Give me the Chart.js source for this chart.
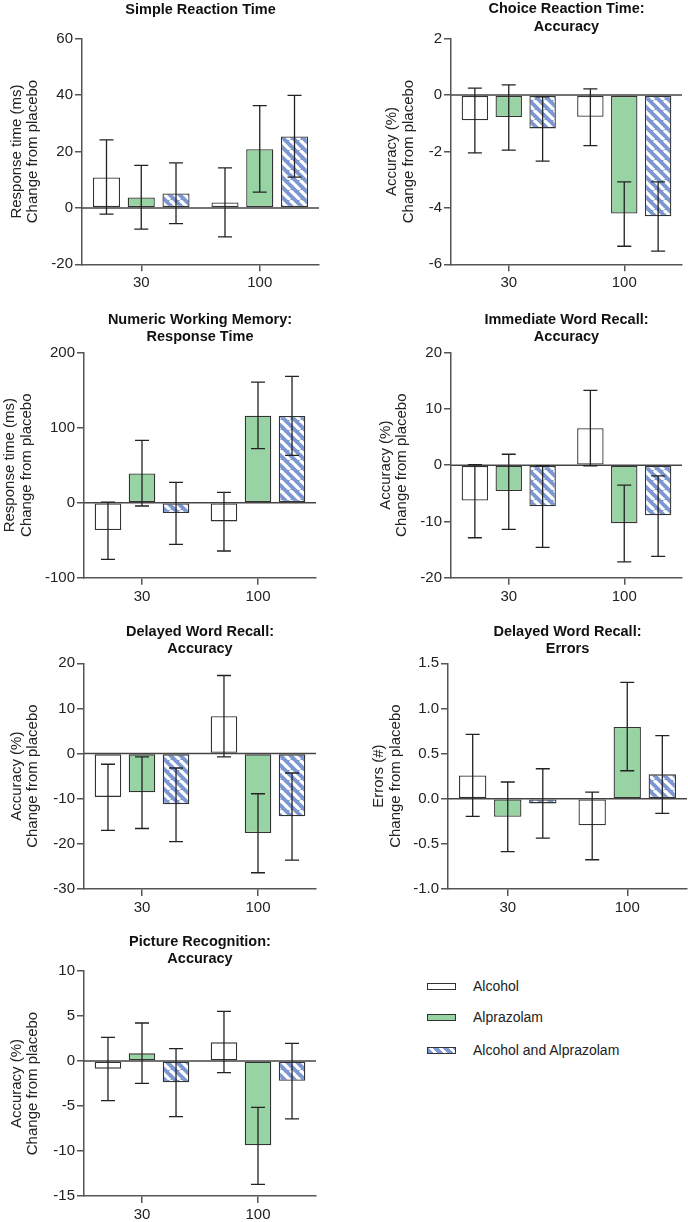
<!DOCTYPE html>
<html><head><meta charset="utf-8">
<script src="https://cdn.jsdelivr.net/npm/chart.js@4.4.0/dist/chart.umd.min.js"></script>
<style>
body{margin:0;background:#fff;width:688px;height:1222px;position:relative;overflow:hidden;font-family:"Liberation Sans",Arial,sans-serif;color:#222;}
canvas{position:absolute;}
.lg{position:absolute;left:427px;font-size:14px;line-height:16px;}
.sw{position:absolute;left:0;width:27px;height:5px;border:1.3px solid #333;}
.lt{position:absolute;left:46px;white-space:nowrap;top:-8px;}
</style></head><body>
<canvas id="c1" width="344" height="300" style="left:0;top:0"></canvas>
<canvas id="c2" width="344" height="300" style="left:344px;top:0"></canvas>
<canvas id="c3" width="344" height="310" style="left:0;top:300px"></canvas>
<canvas id="c4" width="344" height="310" style="left:344px;top:300px"></canvas>
<canvas id="c5" width="344" height="322" style="left:0;top:600px"></canvas>
<canvas id="c6" width="344" height="322" style="left:344px;top:600px"></canvas>
<canvas id="c7" width="344" height="322" style="left:0;top:900px"></canvas>
<div class="lg" style="top:986px"><div class="sw" style="top:-3px;background:#fff"></div><div class="lt">Alcohol</div></div>
<div class="lg" style="top:1017px"><div class="sw" style="top:-3px;background:#98d4a3"></div><div class="lt">Alprazolam</div></div>
<div class="lg" style="top:1050px"><div class="sw" style="top:-3px;background:repeating-linear-gradient(45deg,#7c97d1 0,#7c97d1 3.9px,#fff 3.9px,#fff 7.07px)"></div><div class="lt">Alcohol and Alprazolam</div></div>
<script>
// ---- shared ----
const categories = ['30', '100'];
const seriesNames = ['Alcohol', 'Alprazolam', 'Alcohol and Alprazolam'];

// ---- Simple Reaction Time ----
const srtAlcohol = [10.8, 1.9];
const srtAlprazolam = [3.7, 20.8];
const srtCombo = [5.1, 25.3];
const srtAlcoholErr = [[-2.2, 24.1], [-10.3, 14.2]];
const srtAlprazolamErr = [[-7.5, 15.1], [5.6, 36.3]];
const srtComboErr = [[-5.6, 16.0], [10.9, 39.9]];

// ---- Choice Reaction Time: Accuracy ----
const crtAlcohol = [-0.89, -0.77];
const crtAlprazolam = [-0.78, -4.2];
const crtCombo = [-1.18, -4.3];
const crtAlcoholErr = [[-2.05, 0.25], [-1.79, 0.22]];
const crtAlprazolamErr = [[-1.95, 0.36], [-5.36, -3.08]];
const crtComboErr = [[-2.34, -0.06], [-5.53, -3.08]];

// ---- Numeric Working Memory: Response Time ----
const nwmAlcohol = [-36.4, -24.9];
const nwmAlprazolam = [39.1, 116];
const nwmCombo = [-13.8, 115.6];
const nwmAlcoholErr = [[-75.6, 0.9], [-64.4, 13.8]];
const nwmAlprazolamErr = [[-4.4, 83.1], [72, 160.9]];
const nwmComboErr = [[-55.6, 27.1], [63.1, 168.4]];

// ---- Immediate Word Recall: Accuracy ----
const iwrAlcohol = [-6.27, 6.57];
const iwrAlprazolam = [-4.6, -10.3];
const iwrCombo = [-7.3, -8.9];
const iwrAlcoholErr = [[-12.9, 0.1], [-0.1, 13.3]];
const iwrAlprazolamErr = [[-11.4, 1.95], [-17.2, -3.55]];
const iwrComboErr = [[-14.6, -0.1], [-16.2, -1.9]];

// ---- Delayed Word Recall: Accuracy ----
const dwaAlcohol = [-9.6, 8.27];
const dwaAlprazolam = [-8.57, -17.6];
const dwaCombo = [-11.2, -13.9];
const dwaAlcoholErr = [[-17.0, -2.36], [-0.74, 17.3]];
const dwaAlprazolamErr = [[-16.6, -0.74], [-26.4, -8.9]];
const dwaComboErr = [[-19.5, -3.2], [-23.6, -4.3]];

// ---- Delayed Word Recall: Errors ----
const dweAlcohol = [0.258, -0.295];
const dweAlprazolam = [-0.2, 0.794];
const dweCombo = [-0.052, 0.27];
const dweAlcoholErr = [[-0.196, 0.713], [-0.676, 0.074]];
const dweAlprazolamErr = [[-0.587, 0.185], [0.31, 1.289]];
const dweComboErr = [[-0.436, 0.332], [-0.162, 0.698]];

// ---- Picture Recognition: Accuracy ----
const prAlcohol = [-0.85, 2.07];
const prAlprazolam = [0.85, -9.37];
const prCombo = [-2.37, -2.19];
const prAlcoholErr = [[-4.41, 2.63], [-1.3, 5.52]];
const prAlprazolamErr = [[-2.48, 4.22], [-13.7, -5.15]];
const prComboErr = [[-6.19, 1.37], [-6.44, 1.96]];

// ---- styling ----
const FONT = '"Liberation Sans", Arial, sans-serif';
Chart.defaults.font.family = FONT;
Chart.defaults.color = '#222';
const AXIS = '#555';
const GREEN = '#98d4a3';
const BLUE = '#7c97d1';

function hatch() {
  const p = 10;
  const c = document.createElement('canvas');
  c.width = p; c.height = p;
  const g = c.getContext('2d');
  g.fillStyle = BLUE; g.fillRect(0, 0, p, p);
  g.strokeStyle = '#fff'; g.lineWidth = 3.2;
  for (const o of [-p, 0, p]) {
    g.beginPath(); g.moveTo(o, 0); g.lineTo(o + p, p); g.stroke();
  }
  return g.createPattern(c, 'repeat');
}

function makeChart(id, cfg) {
  const cv = document.getElementById(id);
  const W = cv.width, H = cv.height;
  const A = cfg.area;
  const titlePlugin = {
    id: 'ptitle',
    afterDraw(chart) {
      const ctx = chart.ctx, ca = chart.chartArea;
      ctx.save();
      ctx.font = 'bold 14.5px ' + FONT;
      ctx.fillStyle = '#111';
      ctx.textAlign = 'center'; ctx.textBaseline = 'middle';
      cfg.title.forEach((t, i) => ctx.fillText(t, (ca.left + ca.right) / 2, cfg.titleY[i]));
      ctx.restore();
    }
  };
  const zeroPlugin = {
    id: 'zero',
    afterDatasetsDraw(chart) {
      const ctx = chart.ctx, ca = chart.chartArea, y = chart.scales.y.getPixelForValue(0);
      ctx.save();
      ctx.strokeStyle = '#444'; ctx.lineWidth = 1.5;
      ctx.beginPath(); ctx.moveTo(ca.left, y); ctx.lineTo(ca.right, y); ctx.stroke();
      // error bars
      ctx.strokeStyle = '#222'; ctx.lineWidth = 1.3;
      chart.data.datasets.forEach((ds, di) => {
        const meta = chart.getDatasetMeta(di);
        meta.data.forEach((bar, i) => {
          const [lo, hi] = ds.errorBars[i];
          const y1 = chart.scales.y.getPixelForValue(lo);
          const y2 = chart.scales.y.getPixelForValue(hi);
          const x = bar.x, cw = 7;
          ctx.beginPath();
          ctx.moveTo(x, y1); ctx.lineTo(x, y2);
          ctx.moveTo(x - cw, y1); ctx.lineTo(x + cw, y1);
          ctx.moveTo(x - cw, y2); ctx.lineTo(x + cw, y2);
          ctx.stroke();
        });
      });
      ctx.restore();
    }
  };
  const common = {borderColor: '#333', borderWidth: 1.3, borderSkipped: false,
                  categoryPercentage: 0.88, barPercentage: 0.78};
  new Chart(cv, {
    type: 'bar',
    data: {
      labels: categories,
      datasets: [
        Object.assign({label: seriesNames[0], data: cfg.values[0], errorBars: cfg.errs[0], backgroundColor: '#fff'}, common),
        Object.assign({label: seriesNames[1], data: cfg.values[1], errorBars: cfg.errs[1], backgroundColor: GREEN}, common),
        Object.assign({label: seriesNames[2], data: cfg.values[2], errorBars: cfg.errs[2], backgroundColor: hatch()}, common)
      ]
    },
    options: {
      responsive: false, animation: false,
      layout: {padding: {left: 0, right: W - A.right, top: A.top, bottom: 0}},
      plugins: {legend: {display: false}, tooltip: {enabled: false}},
      scales: {
        x: {
          afterFit: s => { s.height = H - A.bottom; },
          grid: {offset: false, drawOnChartArea: false, drawTicks: true, tickLength: 7, color: AXIS, lineWidth: 1.5},
          border: {display: true, color: AXIS, width: 1.5},
          ticks: {font: {size: 15}, padding: 3, maxRotation: 0, color: '#222'}
        },
        y: {
          min: cfg.min, max: cfg.max,
          afterFit: s => { s.width = A.left; },
          grid: {drawOnChartArea: false, drawTicks: true, tickLength: 7, color: AXIS, lineWidth: 1.5},
          border: {display: true, color: AXIS, width: 1.5},
          ticks: {stepSize: cfg.step, font: {size: 15}, padding: 2, color: '#222',
                  callback: cfg.fmt || (v => String(v))},
          title: {display: true, text: cfg.yTitle, font: {size: 15, lineHeight: 1.1}, color: '#222',
                  padding: {top: cfg.yPad, bottom: 0}}
        }
      }
    },
    plugins: [titlePlugin, zeroPlugin]
  });
}

makeChart('c1', {
  title: ['Simple Reaction Time'], titleY: [10],
  area: {left: 82, right: 319, top: 38.7, bottom: 264.3},
  min: -20, max: 60, step: 20,
  yTitle: ['Response time (ms)', 'Change from placebo'], yPad: 8.5,
  values: [srtAlcohol, srtAlprazolam, srtCombo],
  errs: [srtAlcoholErr, srtAlprazolamErr, srtComboErr]
});
makeChart('c2', {
  title: ['Choice Reaction Time:', 'Accuracy'], titleY: [9, 27],
  area: {left: 107, right: 338, top: 38.7, bottom: 264.3},
  min: -6, max: 2, step: 2,
  yTitle: ['Accuracy (%)', 'Change from placebo'], yPad: 40,
  values: [crtAlcohol, crtAlprazolam, crtCombo],
  errs: [crtAlcoholErr, crtAlprazolamErr, crtComboErr]
});
makeChart('c3', {
  title: ['Numeric Working Memory:', 'Response Time'], titleY: [20, 37],
  area: {left: 84, right: 316, top: 52.7, bottom: 277.7},
  min: -100, max: 200, step: 100,
  yTitle: ['Response time (ms)', 'Change from placebo'], yPad: 2,
  values: [nwmAlcohol, nwmAlprazolam, nwmCombo],
  errs: [nwmAlcoholErr, nwmAlprazolamErr, nwmComboErr]
});
makeChart('c4', {
  title: ['Immediate Word Recall:', 'Accuracy'], titleY: [20, 37],
  area: {left: 107, right: 338, top: 52.7, bottom: 277.7},
  min: -20, max: 20, step: 10,
  yTitle: ['Accuracy (%)', 'Change from placebo'], yPad: 33.5,
  values: [iwrAlcohol, iwrAlprazolam, iwrCombo],
  errs: [iwrAlcoholErr, iwrAlprazolamErr, iwrComboErr]
});
makeChart('c5', {
  title: ['Delayed Word Recall:', 'Accuracy'], titleY: [32, 49],
  area: {left: 84, right: 316, top: 63.3, bottom: 289},
  min: -30, max: 20, step: 10,
  yTitle: ['Accuracy (%)', 'Change from placebo'], yPad: 8.5,
  values: [dwaAlcohol, dwaAlprazolam, dwaCombo],
  errs: [dwaAlcoholErr, dwaAlprazolamErr, dwaComboErr]
});
makeChart('c6', {
  title: ['Delayed Word Recall:', 'Errors'], titleY: [32, 49],
  area: {left: 104, right: 343, top: 63.3, bottom: 289},
  min: -1.0, max: 1.5, step: 0.5,
  fmt: v => Number(v).toFixed(1),
  yTitle: ['Errors (#)', 'Change from placebo'], yPad: 27,
  values: [dweAlcohol, dweAlprazolam, dweCombo],
  errs: [dweAlcoholErr, dweAlprazolamErr, dweComboErr]
});
makeChart('c7', {
  title: ['Picture Recognition:', 'Accuracy'], titleY: [42, 59],
  area: {left: 84, right: 316, top: 71, bottom: 296},
  min: -15, max: 10, step: 5,
  yTitle: ['Accuracy (%)', 'Change from placebo'], yPad: 8.5,
  values: [prAlcohol, prAlprazolam, prCombo],
  errs: [prAlcoholErr, prAlprazolamErr, prComboErr]
});
</script>
</body></html>
